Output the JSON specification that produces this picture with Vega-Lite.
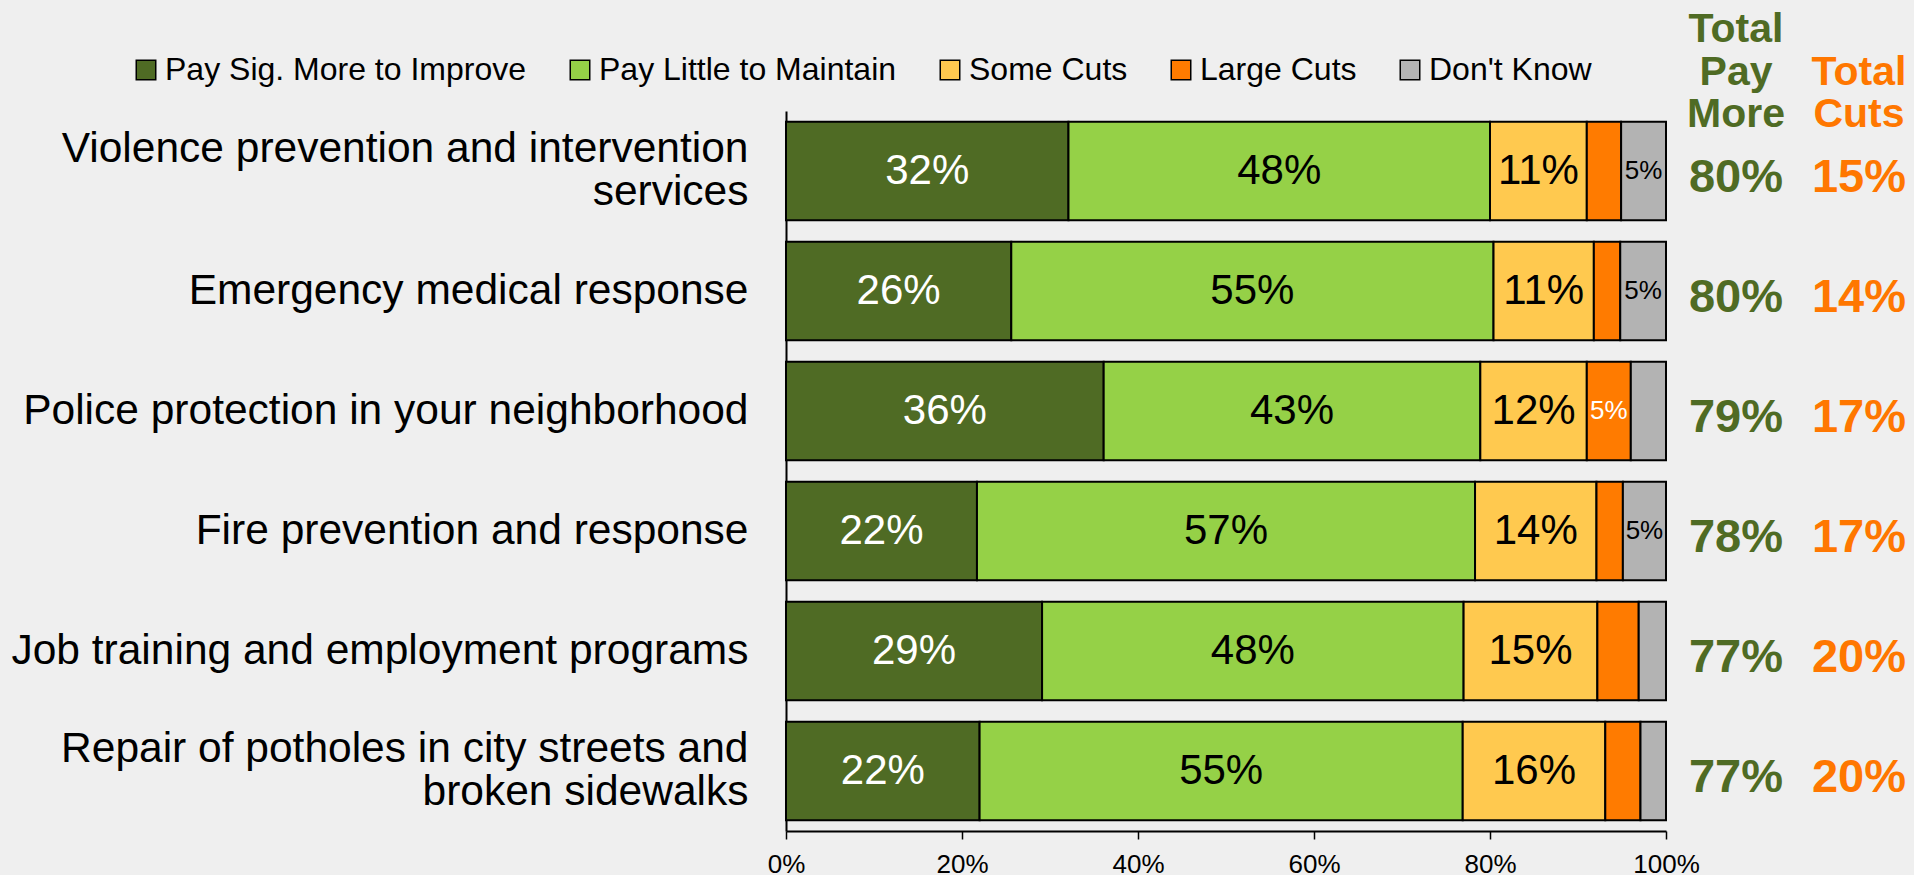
{
  "$schema": "https://vega.github.io/schema/vega-lite/v6.json",
  "background": "#EFEFEF",
  "padding": {"left": 10, "top": 9, "right": 2, "bottom": 2},
  "config": {
    "view": {"stroke": null},
    "font": "Liberation Sans",
    "axis": {"labelFont": "Liberation Sans", "grid": false},
    "legend": {"labelFont": "Liberation Sans"},
    "title": {"font": "Liberation Sans"}
  },
  "datasets": {
    "segments": [
      {"item": "Violence prevention and intervention services", "cat": "Pay Sig. More to Improve", "k": 1, "value": 0.321},
      {"item": "Violence prevention and intervention services", "cat": "Pay Little to Maintain", "k": 2, "value": 0.479},
      {"item": "Violence prevention and intervention services", "cat": "Some Cuts", "k": 3, "value": 0.110},
      {"item": "Violence prevention and intervention services", "cat": "Large Cuts", "k": 4, "value": 0.039},
      {"item": "Violence prevention and intervention services", "cat": "Don't Know", "k": 5, "value": 0.051},
      {"item": "Emergency medical response", "cat": "Pay Sig. More to Improve", "k": 1, "value": 0.256},
      {"item": "Emergency medical response", "cat": "Pay Little to Maintain", "k": 2, "value": 0.548},
      {"item": "Emergency medical response", "cat": "Some Cuts", "k": 3, "value": 0.114},
      {"item": "Emergency medical response", "cat": "Large Cuts", "k": 4, "value": 0.030},
      {"item": "Emergency medical response", "cat": "Don't Know", "k": 5, "value": 0.052},
      {"item": "Police protection in your neighborhood", "cat": "Pay Sig. More to Improve", "k": 1, "value": 0.361},
      {"item": "Police protection in your neighborhood", "cat": "Pay Little to Maintain", "k": 2, "value": 0.428},
      {"item": "Police protection in your neighborhood", "cat": "Some Cuts", "k": 3, "value": 0.121},
      {"item": "Police protection in your neighborhood", "cat": "Large Cuts", "k": 4, "value": 0.050},
      {"item": "Police protection in your neighborhood", "cat": "Don't Know", "k": 5, "value": 0.040},
      {"item": "Fire prevention and response", "cat": "Pay Sig. More to Improve", "k": 1, "value": 0.217},
      {"item": "Fire prevention and response", "cat": "Pay Little to Maintain", "k": 2, "value": 0.566},
      {"item": "Fire prevention and response", "cat": "Some Cuts", "k": 3, "value": 0.138},
      {"item": "Fire prevention and response", "cat": "Large Cuts", "k": 4, "value": 0.030},
      {"item": "Fire prevention and response", "cat": "Don't Know", "k": 5, "value": 0.049},
      {"item": "Job training and employment programs", "cat": "Pay Sig. More to Improve", "k": 1, "value": 0.291},
      {"item": "Job training and employment programs", "cat": "Pay Little to Maintain", "k": 2, "value": 0.479},
      {"item": "Job training and employment programs", "cat": "Some Cuts", "k": 3, "value": 0.152},
      {"item": "Job training and employment programs", "cat": "Large Cuts", "k": 4, "value": 0.047},
      {"item": "Job training and employment programs", "cat": "Don't Know", "k": 5, "value": 0.031},
      {"item": "Repair of potholes in city streets and broken sidewalks", "cat": "Pay Sig. More to Improve", "k": 1, "value": 0.220},
      {"item": "Repair of potholes in city streets and broken sidewalks", "cat": "Pay Little to Maintain", "k": 2, "value": 0.549},
      {"item": "Repair of potholes in city streets and broken sidewalks", "cat": "Some Cuts", "k": 3, "value": 0.162},
      {"item": "Repair of potholes in city streets and broken sidewalks", "cat": "Large Cuts", "k": 4, "value": 0.040},
      {"item": "Repair of potholes in city streets and broken sidewalks", "cat": "Don't Know", "k": 5, "value": 0.029}
    ],
    "totals": [
      {"item": "Violence prevention and intervention services", "more": 0.80, "cuts": 0.15},
      {"item": "Emergency medical response", "more": 0.80, "cuts": 0.14},
      {"item": "Police protection in your neighborhood", "more": 0.79, "cuts": 0.17},
      {"item": "Fire prevention and response", "more": 0.78, "cuts": 0.17},
      {"item": "Job training and employment programs", "more": 0.77, "cuts": 0.20},
      {"item": "Repair of potholes in city streets and broken sidewalks", "more": 0.77, "cuts": 0.20}
    ]
  },
  "bounds": "flush",
  "spacing": 10,
  "hconcat": [
    {
      "width": 880,
      "height": 720,
      "data": {"name": "segments"},
      "transform": [
        {"stack": "value", "groupby": ["item"], "sort": [{"field": "k", "order": "ascending"}], "as": ["x0", "x1"]},
        {"calculate": "(datum.x0 + datum.x1) / 2", "as": "mid"}
      ],
      "encoding": {
        "y": {
          "field": "item", "type": "nominal",
          "sort": ["Violence prevention and intervention services", "Emergency medical response", "Police protection in your neighborhood", "Fire prevention and response", "Job training and employment programs", "Repair of potholes in city streets and broken sidewalks"],
          "scale": {"paddingInner": 0.18, "paddingOuter": 0.09},
          "axis": {
            "title": null, "ticks": false, "domainColor": "#000000", "domainWidth": 2,
            "labelFontSize": 42.5, "labelColor": "#000000", "labelPadding": 38, "labelLimit": 0,
            "labelLineHeight": 43,
            "labelOffset": {"condition": {"test": "datum.value === 'Violence prevention and intervention services' || datum.value === 'Repair of potholes in city streets and broken sidewalks'", "value": -22}, "value": 0},
            "labelExpr": "datum.label === 'Violence prevention and intervention services' ? ['Violence prevention and intervention', 'services'] : datum.label === 'Repair of potholes in city streets and broken sidewalks' ? ['Repair of potholes in city streets and', 'broken sidewalks'] : datum.label"
          }
        }
      },
      "layer": [
        {
          "mark": {"type": "bar", "stroke": "#000000", "strokeWidth": 2},
          "encoding": {
            "x": {
              "field": "x0", "type": "quantitative",
              "scale": {"domain": [0, 1], "nice": false},
              "axis": {
                "title": null, "format": ".0%", "values": [0, 0.2, 0.4, 0.6, 0.8, 1], "labelFlush": false,
                "labelFontSize": 26, "labelColor": "#000000", "tickSize": 8, "tickColor": "#000000",
                "tickWidth": 1.5, "domainColor": "#000000", "domainWidth": 2, "labelPadding": 12
              }
            },
            "x2": {"field": "x1"},
            "color": {
              "field": "cat", "type": "nominal",
              "scale": {
                "domain": ["Pay Sig. More to Improve", "Pay Little to Maintain", "Some Cuts", "Large Cuts", "Don't Know"],
                "range": ["#4F6B24", "#95D147", "#FFC94F", "#FF7B00", "#B3B3B3"]
              },
              "legend": {
                "title": null, "orient": "none", "direction": "horizontal", "columns": 5,
                "legendX": -656, "legendY": -57,
                "symbolType": "square", "symbolSize": 380, "symbolStrokeColor": "#000000", "symbolStrokeWidth": 1.5,
                "symbolOpacity": 1,
                "labelFontSize": 32, "labelColor": "#000000", "labelOffset": 3, "columnPadding": 37, "labelLimit": 0
              }
            }
          }
        },
        {
          "transform": [{"filter": "datum.value >= 0.08"}],
          "mark": {"type": "text", "fontSize": 42, "baseline": "middle", "align": "center"},
          "encoding": {
            "x": {"field": "mid", "type": "quantitative"},
            "text": {"field": "value", "type": "quantitative", "format": ".0%"},
            "color": {"condition": {"test": "datum.cat === 'Pay Sig. More to Improve' || datum.cat === 'Large Cuts'", "value": "#FFFFFF"}, "value": "#000000"}
          }
        },
        {
          "transform": [{"filter": "datum.value >= 0.048 && datum.value < 0.08"}],
          "mark": {"type": "text", "fontSize": 26, "baseline": "middle", "align": "center"},
          "encoding": {
            "x": {"field": "mid", "type": "quantitative"},
            "text": {"field": "value", "type": "quantitative", "format": ".0%"},
            "color": {"condition": {"test": "datum.cat === 'Pay Sig. More to Improve' || datum.cat === 'Large Cuts'", "value": "#FFFFFF"}, "value": "#000000"}
          }
        }
      ]
    },
    {
      "width": 120,
      "height": 720,
      "data": {"name": "totals"},
      "title": {"text": ["Total", "Pay", "More"], "fontSize": 41, "fontWeight": "bold", "color": "#4F6B24", "lineHeight": 42.5, "anchor": "middle", "frame": "group", "baseline": "bottom", "offset": -66},
      "mark": {"type": "text", "fontSize": 47, "fontWeight": "bold", "color": "#4F6B24", "baseline": "middle", "align": "center", "dy": 7},
      "encoding": {
        "y": {
          "field": "item", "type": "nominal",
          "sort": ["Violence prevention and intervention services", "Emergency medical response", "Police protection in your neighborhood", "Fire prevention and response", "Job training and employment programs", "Repair of potholes in city streets and broken sidewalks"],
          "scale": {"paddingInner": 0.18, "paddingOuter": 0.09},
          "axis": null
        },
        "text": {"field": "more", "type": "quantitative", "format": ".0%"}
      }
    },
    {
      "width": 106,
      "height": 720,
      "data": {"name": "totals"},
      "title": {"text": ["Total", "Cuts"], "fontSize": 41, "fontWeight": "bold", "color": "#FF7700", "lineHeight": 42.5, "anchor": "middle", "frame": "group", "baseline": "bottom", "offset": -66},
      "mark": {"type": "text", "fontSize": 47, "fontWeight": "bold", "color": "#FF7700", "baseline": "middle", "align": "center", "dy": 7},
      "encoding": {
        "y": {
          "field": "item", "type": "nominal",
          "sort": ["Violence prevention and intervention services", "Emergency medical response", "Police protection in your neighborhood", "Fire prevention and response", "Job training and employment programs", "Repair of potholes in city streets and broken sidewalks"],
          "scale": {"paddingInner": 0.18, "paddingOuter": 0.09},
          "axis": null
        },
        "text": {"field": "cuts", "type": "quantitative", "format": ".0%"}
      }
    }
  ]
}
